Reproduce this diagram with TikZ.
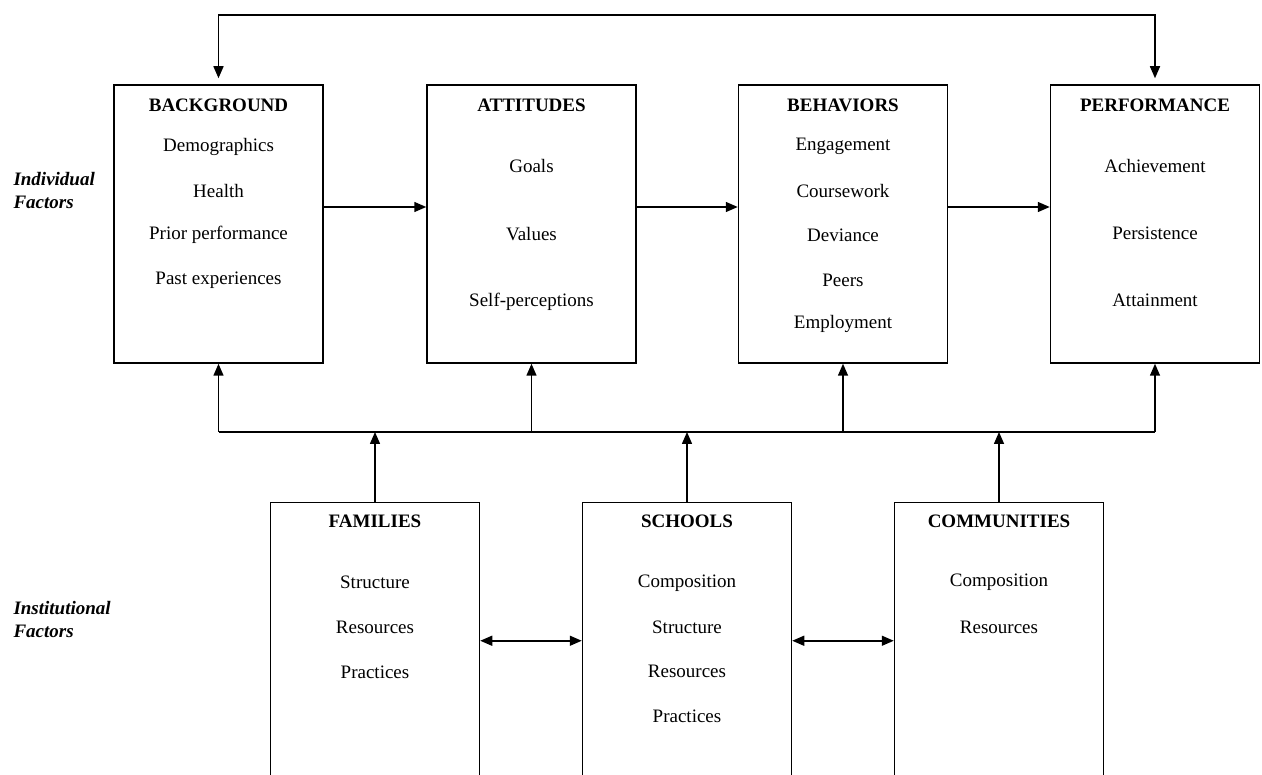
\documentclass[tikz,border=0pt]{standalone}
\usepackage{fontspec}
\setmainfont{Liberation Serif}
\usetikzlibrary{arrows.meta}
\tikzset{
	box/.style={draw,line width=1.5pt,minimum width=209pt,minimum height=278pt,inner sep=0pt},
	lowbox/.style={box,minimum height=320pt,anchor=north},
	item/.style={font=\fontsize{19}{23}\selectfont},
	head/.style={font=\fontsize{19}{23}\selectfont\bfseries},
	side/.style={font=\fontsize{19}{23}\selectfont\bfseries\itshape,align=left,anchor=west},
	arr/.style={line width=1.5pt,-{Triangle[length=12pt,width=10pt]}},
	dbl/.style={line width=1.5pt,{Triangle[length=12pt,width=10pt]}-{Triangle[length=12pt,width=10pt]}}
}
\begin{document}
\begin{tikzpicture}[x=1pt,y=-1pt]
		\clip (0,0) rectangle (1262,775);
		\node[box] (bg) at (218.5,224) {};
		\node[box] (att) at (531.5,224) {};
		\node[box] (beh) at (843,224) {};
		\node[box] (perf) at (1155,224) {};
		\node[lowbox] (fam) at (375,502) {};
		\node[lowbox] (sch) at (687,502) {};
		\node[lowbox] (com) at (999,502) {};
		\foreach \n/\t in {bg/BACKGROUND,att/ATTITUDES,beh/BEHAVIORS,perf/PERFORMANCE}
			\node[head] (\n-h) at (\n.center |- 0,105) {\t};
		\foreach \n/\t in {fam/FAMILIES,sch/SCHOOLS,com/COMMUNITIES}
			\node[head] (\n-h) at (\n.center |- 0,521) {\t};
		\foreach \y/\t [count=\i] in {147/Demographics,191/Health,235/Prior performance,280/Past experiences}
			\node[item] (bg\i) at (bg.center |- 0,\y) {\t};
		\foreach \y/\t [count=\i] in {166/Goals,234/Values,302/Self-perceptions}
			\node[item] (att\i) at (att.center |- 0,\y) {\t};
		\foreach \y/\t [count=\i] in {146/Engagement,191/Coursework,235/Deviance,280/Peers,324/Employment}
			\node[item] (beh\i) at (beh.center |- 0,\y) {\t};
		\foreach \y/\t [count=\i] in {166/Achievement,233/Persistence,300/Attainment}
			\node[item] (perf\i) at (perf.center |- 0,\y) {\t};
		\foreach \y/\t [count=\i] in {582/Structure,627/Resources,672/Practices}
			\node[item] (fam\i) at (fam.center |- 0,\y) {\t};
		\foreach \y/\t [count=\i] in {583/Composition,627/Structure,671/Resources,716/Practices}
			\node[item] (sch\i) at (sch.center |- 0,\y) {\t};
		\foreach \y/\t [count=\i] in {582/Composition,627/Resources}
			\node[item] (com\i) at (com.center |- 0,\y) {\t};
		\node[side] (indiv) at (10,191) {Individual\\Factors};
		\node[side] (inst) at (10,620) {Institutional\\Factors};
		% feedback loop over the top
		\draw[dbl,shorten <=6pt,shorten >=6pt] (bg.north) -- ++(0,-69) -| (perf.north);
		\foreach \a/\b in {bg/att,att/beh,beh/perf}
			\draw[arr] ([yshift=17pt]\a.east) -- ([yshift=17pt]\b.west);
		% institutional bus
		\coordinate (bus) at (0,432);
		\draw[line width=1.5pt] (bg.south |- bus) -- (perf.south |- bus);
		\foreach \n in {bg,att,beh,perf}
			\draw[arr] (\n.south |- bus) -- (\n.south);
		\foreach \n in {fam,sch,com}
			\draw[arr] (\n.north) -- (\n.north |- bus);
		\draw[dbl] ([yshift=22pt]fam.east) -- ([yshift=22pt]sch.west);
		\draw[dbl] ([yshift=22pt]sch.east) -- ([yshift=22pt]com.west);
	\end{tikzpicture}
\end{document}
